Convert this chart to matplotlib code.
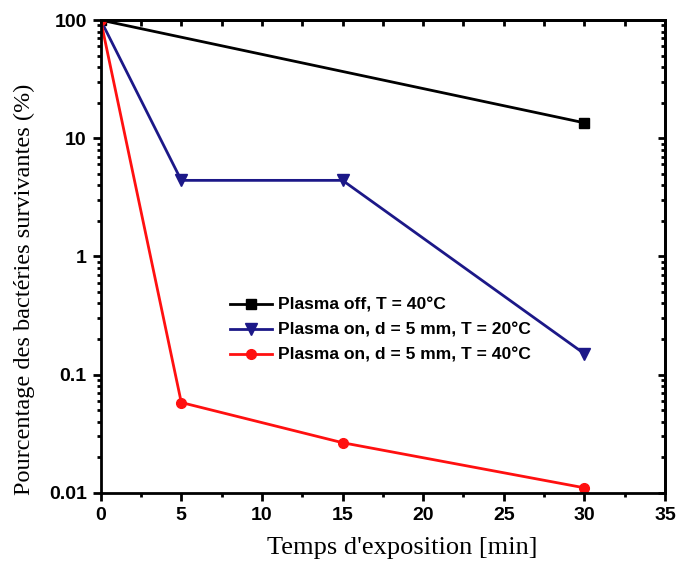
import numpy as np
import matplotlib
matplotlib.use("Agg")
import matplotlib.pyplot as plt
from matplotlib.ticker import LogLocator, FixedLocator, NullFormatter, FixedFormatter

# données
temps_off = [0, 30]
survie_off = [100, 13.5]

temps_on = [0, 5, 15, 30]
survie_on_20 = [100, 4.4, 4.4, 0.15]
survie_on_40 = [100, 0.058, 0.0265, 0.011]

labels = ["Plasma off, T = 40°C",
          "Plasma on, d = 5 mm, T = 20°C",
          "Plasma on, d = 5 mm, T = 40°C"]

x_ticks = [0, 5, 10, 15, 20, 25, 30, 35]
y_ticks = [0.01, 0.1, 1, 10, 100]
y_tick_labels = ["0.01", "0.1", "1", "10", "100"]

fig = plt.figure(figsize=(6.77, 5.64), dpi=100)
ax = fig.add_axes([0.1487, 0.1264, 0.8336, 0.838])

ax.plot(temps_off, survie_off, color="black", lw=2, marker="s", ms=6.5, label=labels[0])
ax.plot(temps_on, survie_on_20, color="#1c1888", lw=2, marker="v", ms=8, label=labels[1])
ax.plot(temps_on, survie_on_40, color="#ff1010", lw=2, marker="o", ms=7, label=labels[2])

ax.set_yscale("log")
ax.set_xlim(0, 35)
ax.set_ylim(0.01, 100)

ax.xaxis.set_major_locator(FixedLocator(x_ticks))
ax.xaxis.set_minor_locator(FixedLocator(np.arange(2.5, 35, 5)))
ax.yaxis.set_major_locator(FixedLocator(y_ticks))
ax.yaxis.set_major_formatter(FixedFormatter(y_tick_labels))
ax.yaxis.set_minor_locator(LogLocator(base=10, subs=np.arange(2, 10)))
ax.yaxis.set_minor_formatter(NullFormatter())

ax.tick_params(which="major", direction="out", length=6, width=2, labelsize=14, pad=4)
ax.tick_params(which="minor", direction="out", length=3, width=2)
for lab in ax.get_xticklabels() + ax.get_yticklabels():
    lab.set_fontfamily("Liberation Sans")
    lab.set_fontweight("bold")

for s in ax.spines.values():
    s.set_linewidth(2)

# ticks vers l'intérieur en haut et à droite
top = ax.secondary_xaxis("top")
top.xaxis.set_major_locator(FixedLocator(x_ticks))
top.xaxis.set_minor_locator(FixedLocator(np.arange(2.5, 35, 5)))
top.tick_params(which="both", direction="in", length=4, width=2, labeltop=False)
top.spines["top"].set_linewidth(2)

right = ax.secondary_yaxis("right")
right.set_yscale("log")
right.yaxis.set_major_locator(FixedLocator(y_ticks))
right.yaxis.set_minor_locator(LogLocator(base=10, subs=np.arange(2, 10)))
right.tick_params(which="major", direction="in", length=5, width=2, labelright=False)
right.tick_params(which="minor", direction="in", length=3, width=2, labelright=False)
right.spines["right"].set_linewidth(2)

ax.set_xlabel("Temps d'exposition [min]", family="Liberation Serif", size=19)
ax.set_ylabel("Pourcentage des bactéries survivantes (%)", family="Liberation Serif", size=17.5)
ax.xaxis.set_label_coords(0.534, -0.117, transform=ax.transAxes)
ax.xaxis.label.set_va("center")
ax.yaxis.set_label_coords(-0.135, 0.43, transform=ax.transAxes)
ax.yaxis.label.set_va("center")

ax.legend(loc="center left", bbox_to_anchor=(0.229, 0.344), frameon=False,
          borderaxespad=0, borderpad=0,
          prop=dict(family="Liberation Sans", weight="bold", size=12.6),
          handlelength=2.4, handletextpad=0.35, labelspacing=0.56)

fig.savefig("out.png", dpi=100)
